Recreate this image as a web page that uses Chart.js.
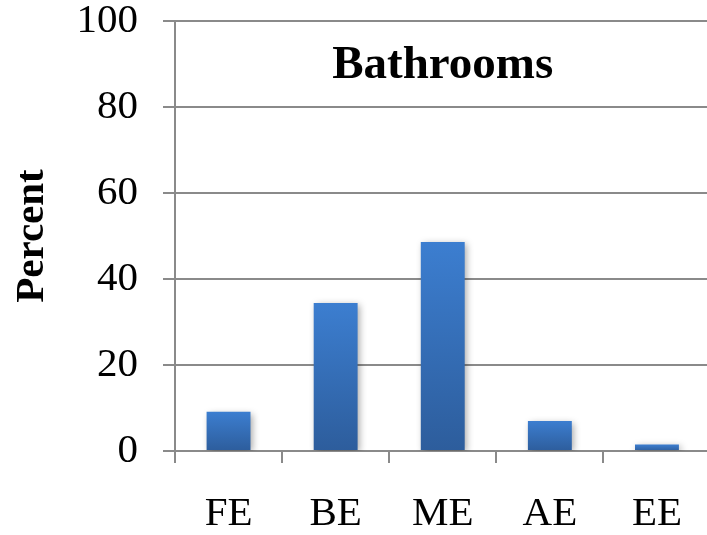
<!DOCTYPE html>
<html>
<head>
<meta charset="utf-8">
<script src="https://cdn.jsdelivr.net/npm/chart.js@4/dist/chart.umd.min.js"></script>
<style>
  html, body { margin: 0; padding: 0; background: #fff; overflow: hidden; }
  canvas { display: block; }
</style>
</head>
<body>
<canvas id="chart" width="713" height="535"></canvas>
<script>
const categories = ['FE', 'BE', 'ME', 'AE', 'EE'];
const percentValues = [9.1, 34.4, 48.6, 7.0, 1.5];
const yTicks = [0, 20, 40, 60, 80, 100];

const serif = "'Liberation Serif', 'Times New Roman', serif";
const gridGrey = '#8a8a8a';

// vertical gradient for each bar, lighter at its top
function barFill(ctx) {
    const chart = ctx.chart;
    const yScale = chart.scales.y;
    if (!yScale || ctx.parsed == null) return '#3a78c6';
    const top = yScale.getPixelForValue(ctx.parsed.y);
    const bottom = yScale.getPixelForValue(0);
    if (!isFinite(top) || top === bottom) return '#3a78c6';
    const g = chart.ctx.createLinearGradient(0, top, 0, bottom);
    g.addColorStop(0, '#3c7ed0');
    g.addColorStop(1, '#2d5d9c');
    return g;
}

const overlayTitle = {
    id: 'overlayTitle',
    afterDraw(chart) {
        const { ctx, chartArea } = chart;
        ctx.save();
        ctx.font = `bold 47px ${serif}`;
        ctx.fillStyle = '#000';
        ctx.textAlign = 'center';
        ctx.textBaseline = 'alphabetic';
        ctx.fillText('Bathrooms', (chartArea.left + chartArea.right) / 2, chartArea.top + 57);
        ctx.restore();
    }
};

const barShadow = {
    id: 'barShadow',
    beforeDatasetsDraw(chart) {
        const ctx = chart.ctx;
        ctx.save();
        ctx.shadowColor = 'rgba(0,0,0,0.35)';
        ctx.shadowBlur = 7;
        ctx.shadowOffsetX = 2;
        ctx.shadowOffsetY = 2;
    },
    afterDatasetsDraw(chart) {
        chart.ctx.restore();
    }
};

new Chart(document.getElementById('chart'), {
    type: 'bar',
    data: {
        labels: categories,
        datasets: [{
            data: percentValues,
            backgroundColor: barFill,
            borderWidth: 0,
            categoryPercentage: 1,
            barPercentage: 0.41,
        }],
    },
    options: {
        responsive: false,
        animation: false,
        layout: { padding: { top: 21, left: 0, right: 0, bottom: 0 } },
        plugins: {
            legend: { display: false },
            tooltip: { enabled: false },
        },
        scales: {
            x: {
                grid: {
                    display: true,
                    drawOnChartArea: false,
                    drawTicks: true,
                    tickLength: 12,
                    color: gridGrey,
                    lineWidth: 2,
                    offset: true,
                },
                border: { color: gridGrey, width: 2 },
                ticks: {
                    color: '#000',
                    padding: 31,
                    font: { family: serif, size: 41, lineHeight: 1 },
                    maxRotation: 0,
                },
                afterFit(scale) { scale.height = 84; },
            },
            y: {
                min: 0,
                max: 100,
                afterBuildTicks(scale) {
                    scale.ticks = yTicks.map(v => ({ value: v }));
                },
                grid: {
                    color: gridGrey,
                    lineWidth: 2,
                    tickLength: 12,
                },
                border: { color: gridGrey, width: 2 },
                ticks: {
                    color: '#000',
                    padding: 25,
                    font: { family: serif, size: 41, lineHeight: 1 },
                },
                title: {
                    display: true,
                    text: 'Percent',
                    color: '#000',
                    padding: { top: 8, bottom: 0 },
                    font: { family: serif, size: 41, weight: 'bold', lineHeight: 1.2 },
                },
                afterFit(scale) {
                    scale.width = 175;
                    scale.paddingTop = 0;
                    scale.paddingBottom = 0;
                },
            },
        },
    },
    plugins: [barShadow, overlayTitle],
});
</script>
</body>
</html>
